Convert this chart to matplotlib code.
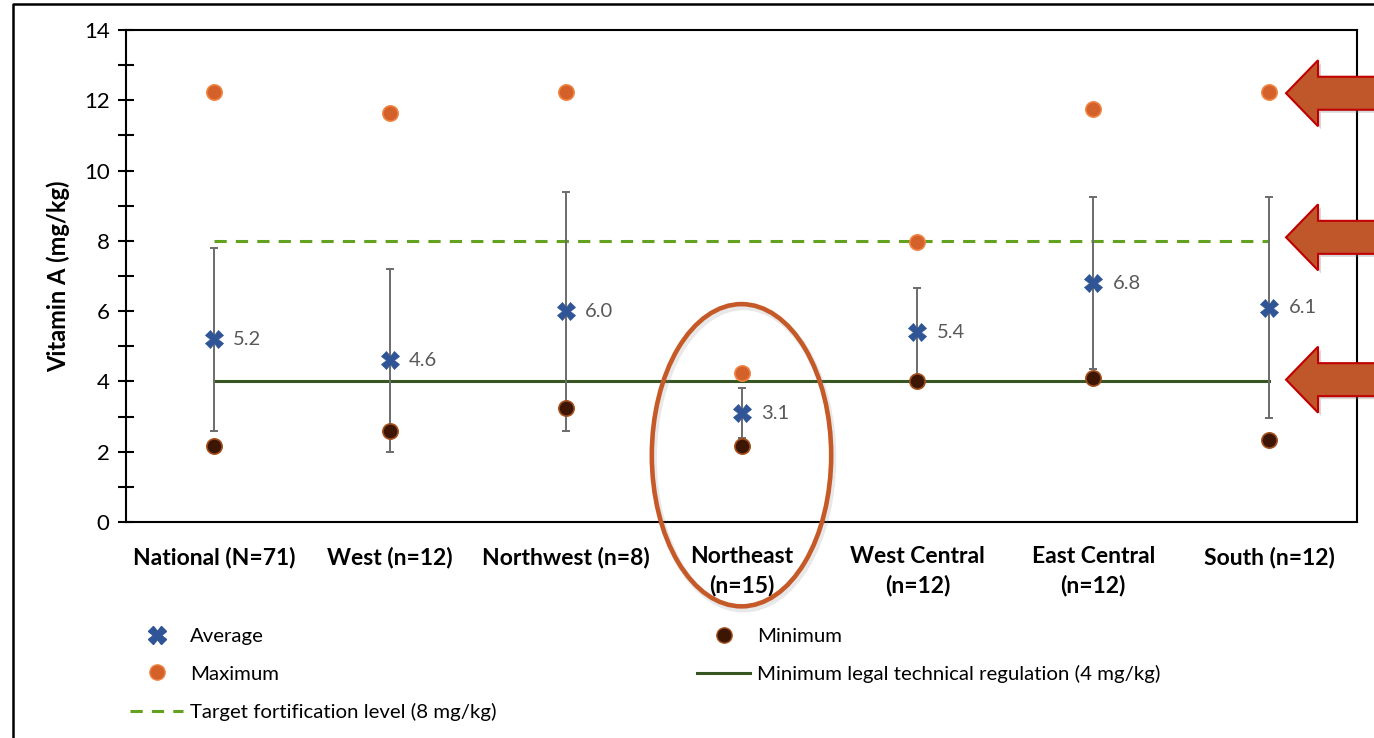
import numpy as np
import matplotlib.pyplot as plt
from matplotlib.lines import Line2D
from matplotlib.patches import Ellipse, Polygon
from matplotlib.transforms import ScaledTranslation

plt.rcParams['font.family'] = ['Lato', 'DejaVu Sans']

# Vitamin A content by region
regions = ["National (N=71)", "West (n=12)", "Northwest (n=8)", "Northeast\n(n=15)",
           "West Central\n(n=12)", "East Central\n(n=12)", "South (n=12)"]
average = [5.2, 4.6, 6.0, 3.1, 5.4, 6.8, 6.1]
std_dev = [2.6, 2.6, 3.4, 0.7, 1.25, 2.45, 3.15]
maximum = [12.24, 11.64, 12.24, 4.24, 7.97, 11.75, 12.24]
minimum = [2.16, 2.59, 3.24, 2.16, 4.01, 4.10, 2.33]
legal_min = 4
target_level = 8

# callouts
arrow_levels = [12.2, 8.1, 4.05]
highlight_region = 3

W, H = 1374, 738
fig = plt.figure(figsize=(W / 100, H / 100), dpi=100)
ax = fig.add_axes([126 / W, 1 - 522 / H, (1357 - 126) / W, (522 - 30) / H])

x = np.arange(len(regions))

ax.plot([x[0], x[-1]], [legal_min, legal_min], color='#375623', lw=2.2, zorder=2)
ax.plot([x[0], x[-1]], [target_level, target_level], color='#62A21F', lw=2.2,
        dashes=(4, 3), zorder=2)

ax.errorbar(x, average, yerr=std_dev, fmt='none', ecolor='#6B6B6B', elinewidth=1.4,
            capsize=3, capthick=1.4, zorder=3)
ax.plot(x, maximum, 'o', ms=11, mfc='#D5612A', mec='#EF8443', mew=1.2, zorder=4)
ax.plot(x, minimum, 'o', ms=11, mfc='#3C1603', mec='#A34F1B', mew=1.2, zorder=4)
ax.plot(x, average, 'X', ms=12.5, mfc='#2F5597', mec='#2F5597', mew=0.5, zorder=5)

for xi, v in zip(x, average):
    ax.annotate(f"{v:.1f}", (xi, v), xytext=(14, 0), textcoords='offset points',
                va='center', ha='left', fontsize=14.5, color='#595959', zorder=6)

ax.set_xlim(-0.5, len(regions) - 0.5)
ax.set_ylim(0, 14)
ax.set_yticks(np.arange(0, 15, 2))
ax.set_yticks(np.arange(1, 14, 2), minor=True)
ax.tick_params(axis='y', which='both', direction='inout', length=11.5, width=1.5,
               labelsize=16, pad=6)
ax.set_xticks(x)
ax.set_xticklabels(regions, fontsize=16.5, fontweight='bold', linespacing=1.42)
ax.tick_params(axis='x', length=0, pad=17.5)
for s in ax.spines.values():
    s.set_linewidth(1.5)

ax.set_ylabel("Vitamin A (mg/kg)", fontsize=17, fontweight='bold', va='center')
ax.yaxis.set_label_coords((58 - 126) / (1357 - 126), 0.5)

# highlight ellipse round the Northeast column
ell_kw = dict(xy=(highlight_region, 1.9), width=1.02, height=8.6, fill=False,
              clip_on=False)
ax.add_patch(Ellipse(**ell_kw, lw=4.5, edgecolor='#808080', alpha=0.18, zorder=6,
                     transform=ax.transData + ScaledTranslation(2 / 100, -3 / 100,
                                                                fig.dpi_scale_trans)))
ax.add_patch(Ellipse(**ell_kw, lw=3.3, edgecolor='#C55A28', zorder=7))

# block arrows on the right pointing at the reference levels
px = (len(regions) - 1) / (1269 - 213)
py = 14 / (522 - 30)
tip_x = x[-1] + (1286 - 1269) * px
for lvl in arrow_levels:
    hx = tip_x + 32 * px
    ex = tip_x + 110 * px
    pts = [(tip_x, lvl), (hx, lvl + 33 * py), (hx, lvl + 16.5 * py), (ex, lvl + 16.5 * py),
           (ex, lvl - 16.5 * py), (hx, lvl - 16.5 * py), (hx, lvl - 33 * py)]
    shadow = [(a + 3 * px, b - 3 * py) for a, b in pts]
    ax.add_patch(Polygon(shadow, closed=True, fc='#7F7F7F', ec='none', alpha=0.3,
                         clip_on=False, zorder=8))
    ax.add_patch(Polygon(pts, closed=True, fc='#C0572A', ec='#C00000', lw=1.5,
                         clip_on=False, zorder=9))

# legend in two columns under the chart
h_avg = Line2D([], [], ls='none', marker='X', ms=12.5, mfc='#2F5597', mec='#2F5597')
h_max = Line2D([], [], ls='none', marker='o', ms=11, mfc='#D5612A', mec='#EF8443')
h_min = Line2D([], [], ls='none', marker='o', ms=11, mfc='#3C1603', mec='#A34F1B')
h_legal = Line2D([], [], color='#375623', lw=2.2)
h_target = Line2D([], [], color='#62A21F', lw=2.2, dashes=(4, 3))

leg_kw = dict(loc='upper left', frameon=False, fontsize=14.7, borderpad=0,
              handlelength=2.6, handletextpad=0.35, labelspacing=0.98,
              borderaxespad=0)
fig.legend([h_avg, h_max, h_target],
           ["Average", "Maximum", "Target fortification level (8 mg/kg)"],
           bbox_to_anchor=(130 / W, 1 - 628 / H), **leg_kw)
fig.legend([h_min, h_legal],
           ["Minimum", "Minimum legal technical regulation (4 mg/kg)"],
           bbox_to_anchor=(697 / W, 1 - 628 / H), **leg_kw)

# outer frame of the chart
fig.add_artist(Line2D([13 / W, 13 / W, 1.0], [0.0, 1 - 4 / H, 1 - 4 / H],
                      color='black', lw=1.8, transform=fig.transFigure))

fig.savefig("out.png", dpi=100)
